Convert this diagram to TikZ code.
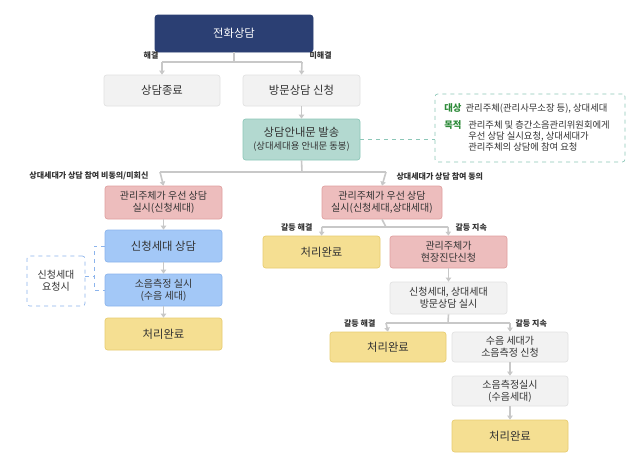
\documentclass[tikz,border=0pt]{standalone}
\usepackage{fontspec}
\setmainfont{Noto Sans CJK KR}
\usetikzlibrary{arrows.meta}
\definecolor{navy}{HTML}{2B3F73}
\definecolor{gbox}{HTML}{F2F2F2}
\definecolor{gline}{HTML}{E2E2E2}
\definecolor{teal}{HTML}{B3D9D0}
\definecolor{tealb}{HTML}{8CC7B8}
\definecolor{pinkf}{HTML}{EDBDBD}
\definecolor{pinkb}{HTML}{E0A0A0}
\definecolor{bluef}{HTML}{A3C8F7}
\definecolor{blueb}{HTML}{8CB4EC}
\definecolor{yelf}{HTML}{F5DF92}
\definecolor{yelb}{HTML}{E8CC70}
\definecolor{arr}{HTML}{C8C8C8}
\definecolor{lbl}{HTML}{333333}
\definecolor{grn}{HTML}{2E8B3A}
\tikzset{
 x=0.75pt,y=-0.75pt,
 bx/.style={rounded corners=2pt,line width=0.5pt,align=center,font=\fontsize{7.5}{9}\selectfont,text=lbl,inner sep=0pt},
 gbx/.style={bx,fill=gbox,draw=gline},
 ybx/.style={bx,fill=yelf,draw=yelb,font=\fontsize{8.5}{10}\selectfont},
 pbx/.style={bx,fill=pinkf,draw=pinkb},
 bbx/.style={bx,fill=bluef,draw=blueb},
 ar/.style={draw=arr,line width=1.2pt,-{Triangle[length=3pt,width=4pt]}},
 ln/.style={draw=arr,line width=1.2pt},
 lb/.style={font=\bfseries\fontsize{6}{7}\selectfont,text=lbl,inner sep=1pt}
}
\newcommand{\bxat}[5]{\node[#1,minimum width={(#4-#2)*0.75pt},minimum height={(#5-#3)*0.75pt}] at ({(#2+#4)/2},{(#3+#5)/2})}
\begin{document}
\begin{tikzpicture}
\useasboundingbox[fill=white] (0,0) rectangle (640,472);
\bxat{bx,fill=navy,draw=navy,text=white,font=\fontsize{8.5}{10}\selectfont}{155}{15}{313}{52} (a) {전화상담};
\bxat{gbx,font=\fontsize{8.5}{10}\selectfont}{104}{75}{220}{106} (b) {상담종료};
\bxat{gbx,font=\fontsize{8.5}{10}\selectfont}{243}{75}{360}{106} (c) {방문상담 신청};
\bxat{bx,fill=teal,draw=tealb}{243}{119}{360}{160} (d) {{\fontsize{8.5}{10}\selectfont 상담안내문 발송}\\[1pt]{\fontsize{7}{8}\selectfont (상대세대용 안내문 동봉)}};
\bxat{bx,draw=tealb,dashed,fill=white}{435}{94}{625}{162} (n) {};
\node[anchor=north west,font=\fontsize{7}{8.5}\selectfont,text=lbl,inner sep=0pt,align=left] at (444,103) {\textcolor{grn}{\bfseries 대상}\ \ 관리주체(관리사무소장 등), 상대세대};
\node[anchor=north west,font=\fontsize{7}{8.5}\selectfont,text=grn,inner sep=0pt] at (444,120) {\bfseries 목적};
\node[anchor=north west,font=\fontsize{7}{8.5}\selectfont,text=lbl,inner sep=0pt,align=left] at (468,120) {관리주체 및 층간소음관리위원회에게\\우선 상담 실시요청, 상대세대가\\관리주체의 상담에 참여 요청};
\draw[tealb,dashed,line width=0.5pt] (d.east) -- (n.west |- d.east);

\bxat{pbx}{105}{186}{222}{219} (e) {관리주체가 우선 상담\\실시(신청세대)};
\bxat{pbx}{322}{186}{442}{219} (f) {관리주체가 우선 상담\\실시(신청세대,상대세대)};
\bxat{bbx,font=\fontsize{8.5}{10}\selectfont}{105}{230}{222}{262} (g) {신청세대 상담};
\bxat{bbx}{105}{274}{222}{306} (h) {소음측정 실시\\(수음 세대)};
\bxat{ybx}{105}{318}{222}{350} (i) {처리완료};
\bxat{bx,draw=blueb,dashed,fill=white}{27}{256}{85}{306} (q) {신청세대\\요청시};
\draw[blueb,dashed,line width=0.5pt] (g.west) -- (94,246) -- (94,290) -- (h.west);
\draw[blueb,dashed,line width=0.5pt] (85,276) -- (94,276);

\bxat{ybx}{263}{236}{380}{268} (j) {처리완료};
\bxat{pbx}{390}{236}{507}{268} (k) {관리주체가\\현장진단신청};
\bxat{gbx}{390}{282}{507}{314} (l) {신청세대, 상대세대\\방문상담 실시};
\bxat{ybx}{330}{332}{446}{362} (m) {처리완료};
\bxat{gbx}{452}{332}{568}{362} (o) {수음 세대가\\소음측정 신청};
\bxat{gbx}{452}{376}{568}{406} (p) {소음측정실시\\(수음세대)};
\bxat{ybx}{452}{420}{568}{452} (r) {처리완료};

% connectors
\coordinate (t1) at (234,62);
\draw[ln] (a.south) -- (t1);
\draw[ln] (162,62) -- (302,62);
\draw[ar] (162,62) -- (b.north);
\draw[ar] (302,62) -- (c.north);
\node[lb,anchor=south east] at (160,61) {해결};
\node[lb,anchor=south west] at (308,61) {미해결};
\draw[ar] (c.south) -- (d.north);
\coordinate (t2) at (302,172);
\draw[ln] (d.south) -- (t2);
\draw[ln] (160,172) -- (386,172);
\draw[ar] (160,172) -- (e.north);
\draw[ar] (386,172) -- (f.north);
\node[lb,anchor=south east] at (150,182) {상대세대가 상담 참여 비동의/미회신};
\node[lb,anchor=south west] at (395,182) {상대세대가 상담 참여 동의};
\draw[ar] (e.south) -- (g.north);
\draw[ar] (g.south) -- (h.north);
\draw[ar] (h.south) -- (i.north);
\draw[ln] (f.south) -- (386,227);
\draw[ln] (322,227) -- (448,227);
\draw[ar] (322,227) -- (j.north);
\draw[ar] (448,227) -- (k.north);
\node[lb,anchor=south east] at (314,233) {갈등 해결};
\node[lb,anchor=south west] at (454,233) {갈등 지속};
\draw[ar] (k.south) -- (l.north);
\draw[ln] (l.south) -- (448,323);
\draw[ln] (386,323) -- (510,323);
\draw[ar] (386,323) -- (m.north);
\draw[ar] (510,323) -- (o.north);
\node[lb,anchor=south east] at (377,329) {갈등 해결};
\node[lb,anchor=south west] at (514,329) {갈등 지속};
\draw[ar] (o.south) -- (p.north);
\draw[ar] (p.south) -- (r.north);
\end{tikzpicture}
\end{document}
